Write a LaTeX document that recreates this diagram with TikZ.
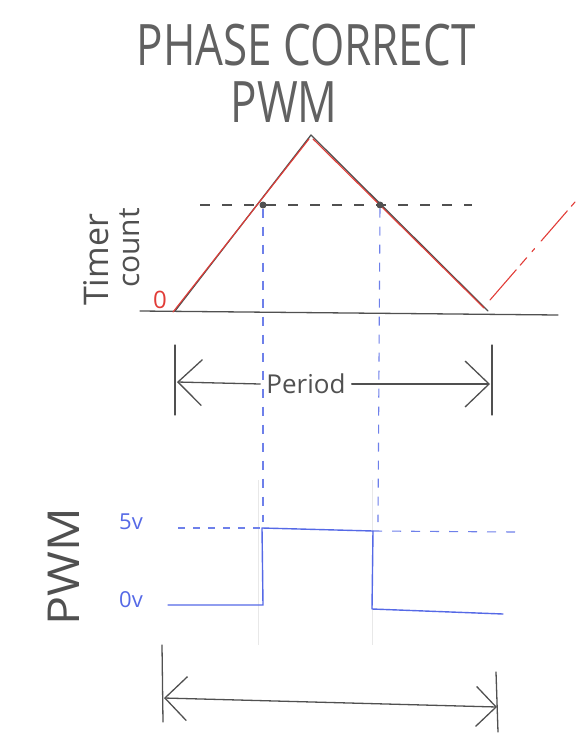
\documentclass[tikz,border=0pt]{standalone}
\usepackage{fontspec}
\setmainfont{Open Sans}
\usetikzlibrary{arrows.meta}
\definecolor{pen}{RGB}{80,80,80}
\definecolor{redpen}{RGB}{225,60,55}
\definecolor{bluepen}{RGB}{85,105,230}
\tikzset{
  pencil/.style={draw=pen, line width=1.3pt, line cap=round, line join=round},
  redline/.style={draw=redpen, line width=1.1pt, line cap=round},
  blueline/.style={draw=bluepen, line width=1.4pt, line cap=round, line join=round},
  bluedash/.style={draw=bluepen!85, line width=1.1pt, dash pattern=on 9pt off 9pt},
  blackdash/.style={draw=pen, line width=1.2pt, dash pattern=on 10pt off 12pt},
  faint/.style={draw=gray!18, line width=0.8pt},
  hand/.style={text=pen!90, font=\fontsize{44}{44}\selectfont, inner sep=0pt, yscale=1.3},
  label/.style={font=\fontsize{22}{22}\selectfont, inner sep=0pt},
  bigbarb/.style={Straight Barb[length=24pt,width=46pt,line width=1.3pt]},
  barb/.style={-{Straight Barb[length=24pt,width=46pt,line width=1.3pt]}},
  dot/.style={circle, fill=pen, inner sep=0pt, minimum size=7pt}
}
\begin{document}
\begin{tikzpicture}[x=1pt,y=-1pt]
\useasboundingbox (0,0) rectangle (582,755);
% title
\node[hand] (t1) at (306,45) {PHASE CORRECT};
\node[hand] (t2) at (284,102) {PWM};
% axis
\coordinate (a0) at (140,311);
\coordinate (a1) at (558,315);
\draw[pencil] (a0) -- (a1);
% triangle
\coordinate (s) at (175,311);
\coordinate (pk) at (311,135);
\coordinate (e) at (488,311);
\draw[pencil] (s) -- (pk) -- (e);
\draw[redline] (173,312) -- (309,139);
\draw[redline] (313,139) -- (484,308);
\draw[redline, dash pattern=on 40pt off 6pt on 10pt off 8pt on 4pt off 10pt] (490,300) -- (575,202);
\node[text=redpen, label, font=\fontsize{24}{24}\selectfont] (zero) at (160,300) {0};
% compare level
\coordinate (c0) at (200,205);
\coordinate (c1) at (472,205);
\draw[blackdash] (c0) -- (c1);
\node[dot] (d1) at (263,205) {};
\node[dot] (d2) at (380,205) {};
% blue dashed verticals
\coordinate (v1b) at (263,522);
\coordinate (v2b) at (378,522);
\draw[bluedash] (d1) -- (v1b);
\draw[bluedash] (d2) -- (v2b);
% faint guide lines
\draw[faint] (258,480) -- (258,645);
\draw[faint] (372,480) -- (372,645);
% timer count label
\node[text=pen, font=\fontsize{34}{34}\selectfont, inner sep=0pt, rotate=90] (tm) at (96,260) {Timer};
\node[text=pen, font=\fontsize{30}{30}\selectfont, inner sep=0pt, rotate=90] (cn) at (130,248) {count};
% period
\coordinate (p0t) at (175,345); \coordinate (p0b) at (175,415);
\coordinate (p1t) at (492,345); \coordinate (p1b) at (492,415);
\draw[pencil] (p0t) -- (p0b);
\draw[pencil] (p1t) -- (p1b);
\node[text=pen, label, font=\fontsize{26}{26}\selectfont] (per) at (306,384) {Period};
\coordinate (pl) at (177,382);
\coordinate (pr) at (490,384);
\draw[pencil, barb] (per.west) ++(-6,0) -- (pl);
\draw[pencil, barb] (per.east) ++(6,0) -- (pr);
% PWM section
\node[text=pen, font=\fontsize{44}{44}\selectfont, inner sep=0pt, yscale=1.1, rotate=90] (pwm) at (64,567) {PWM};
\node[text=bluepen, label] (v5) at (131,522) {5v};
\node[text=bluepen, label] (v0) at (131,600) {0v};
\coordinate (h0) at (178,528);
\coordinate (h1) at (515,532);
\draw[bluedash, dash pattern=on 7pt off 8pt] (h0) -- (262,528);
\draw[bluedash, dash pattern=on 9pt off 10pt] (373,531) -- (h1);
\coordinate (w0) at (168,605);
\coordinate (w1) at (263,605);
\coordinate (w2) at (262,528);
\coordinate (w3) at (373,531);
\coordinate (w4) at (372,609);
\coordinate (w5) at (503,614);
\draw[blueline] (w0) -- (w1) -- (w2) -- (w3) -- (w4) -- (w5);
% bottom arrow
\coordinate (b0t) at (162,645); \coordinate (b0b) at (163,722);
\coordinate (b1t) at (496,672); \coordinate (b1b) at (498,732);
\draw[pencil] (b0t) -- (b0b);
\draw[pencil] (b1t) -- (b1b);
\coordinate (bl) at (164,698);
\coordinate (br) at (497,707);
\draw[pencil, {Straight Barb[length=22pt,width=44pt,line width=1.3pt]}-{Straight Barb[length=20pt,width=40pt,line width=1.3pt]}] (bl) -- (br);
\end{tikzpicture}
\end{document}
